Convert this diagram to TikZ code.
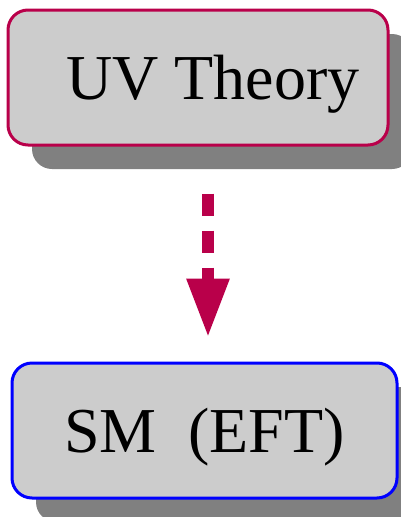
\documentclass[tikz,border=0pt]{standalone}
\usepackage{fontspec}
\setmainfont{Liberation Serif}
\usetikzlibrary{positioning,shadows,arrows.meta}
\definecolor{uvred}{RGB}{185,0,74}
\definecolor{boxgray}{RGB}{204,204,204}
\definecolor{shadowgray}{RGB}{128,128,128}

\begin{document}
\begin{tikzpicture}[x=1pt,y=1pt,
  theory/.style={draw,line width=3pt,rounded corners=20pt,fill=boxgray,
    minimum height=135pt,inner sep=0pt,text height=43pt,text depth=0pt,
    font=\fontsize{64}{70}\selectfont,
    drop shadow={shadow xshift=24pt,shadow yshift=-24pt,fill=shadowgray,opacity=1}},
  flow/.style={uvred,line width=12pt,dash pattern=on 22pt off 15pt,
    -{Triangle[width=40pt,length=59pt]}}
]
\useasboundingbox (0,0) rectangle (400,-517);
\node[theory,draw=uvred,minimum width=380pt] (uv) at (198,-77.5) {\hspace*{30pt}UV Theory};
\node[theory,draw=blue,minimum width=385pt] (sm) at (204.5,-430.5) {SM~~(EFT)};

\draw[flow] ([xshift=10pt,yshift=-47pt]uv.south) -- ([xshift=3.5pt,yshift=24pt]sm.north);
\end{tikzpicture}
\end{document}
